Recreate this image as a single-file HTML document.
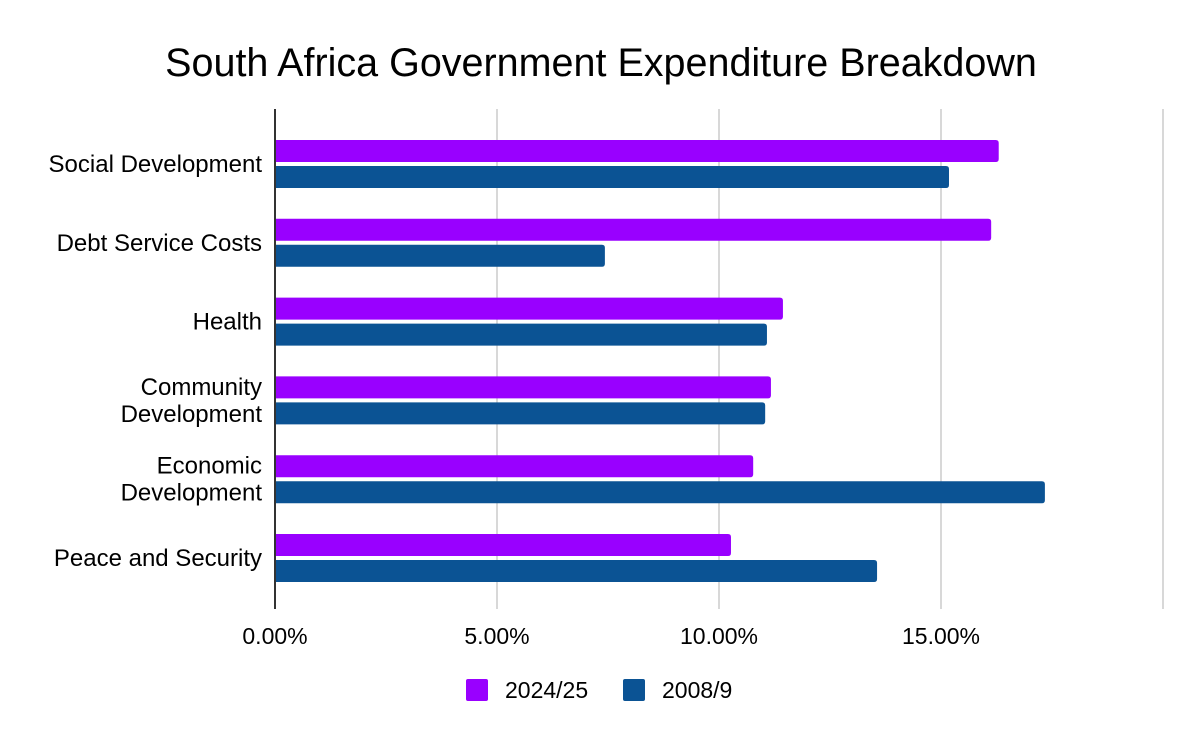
<!DOCTYPE html>
<html><head><meta charset="utf-8"><style>
body{margin:0;background:#fff;}
svg{display:block;font-family:"Liberation Sans",Arial,sans-serif;}
</style></head><body>
<svg id="chart" width="1200" height="742" viewBox="0 0 1200 742">
<rect width="1200" height="742" fill="#fff"/>
<text x="601" y="76" text-anchor="middle" font-size="39.5" fill="#000">South Africa Government Expenditure Breakdown</text>
<g id="grid"></g><g id="bars"></g><g id="labels"></g>
<line x1="275" y1="109" x2="275" y2="609" stroke="#333" stroke-width="2"/>
<g>
<rect x="466" y="679" width="22" height="22" rx="2" fill="#9900ff"/>
<text x="505" y="698" font-size="23" fill="#000">2024/25</text>
<rect x="623" y="679" width="22" height="22" rx="2" fill="#0b5394"/>
<text x="662" y="698" font-size="23" fill="#000">2008/9</text>
</g>
</svg>
<script>
const categories=[["Social Development"],["Debt Service Costs"],["Health"],["Community","Development"],["Economic","Development"],["Peace and Security"]];
const series2024=[16.3,16.13,11.44,11.17,10.77,10.27];
const series2008=[15.18,7.43,11.08,11.04,17.34,13.56];
const ticks=[0,5,10,15,20];
const tickLabels=["0.00%","5.00%","10.00%","15.00%",""];
const NS="http://www.w3.org/2000/svg";
const x0=275,pxPer=44.4,bandTop=124.6,band=78.8,barH=22,gap=4;
const xs=v=>x0+v*pxPer;
function mk(tag,attrs,parent){const e=document.createElementNS(NS,tag);for(const k in attrs)e.setAttribute(k,attrs[k]);document.getElementById(parent).appendChild(e);return e;}
ticks.forEach((t,i)=>{
 if(t>0){const l=mk('line',{x1:xs(t),x2:xs(t),y1:109,y2:609,stroke:'#ccc','stroke-width':1.5},'grid');
 
 }
 const tx=mk('text',{x:xs(t),y:644,'text-anchor':'middle','font-size':23,fill:'#000'},'labels');tx.textContent=tickLabels[i];
 
 
});
function bar(v,y,color,name){
 const w=xs(v)-x0,r=3;
 const d=`M${x0},${y}H${x0+w-r}Q${x0+w},${y} ${x0+w},${y+r}V${y+barH-r}Q${x0+w},${y+barH} ${x0+w-r},${y+barH}H${x0}Z`;
 const p=mk('path',{d:d,fill:color},'bars');
 
 
}
categories.forEach((c,i)=>{
 const cy=bandTop+band*(i+0.5);
 bar(series2024[i],cy-gap/2-barH,'#9900ff','bar-2024-'+i);
 bar(series2008[i],cy+gap/2,'#0b5394','bar-2008-'+i);
 const t=mk('text',{x:262,'text-anchor':'end','font-size':24,fill:'#000'},'labels');
 
 
 c.forEach((line,j)=>{const ts=document.createElementNS(NS,'tspan');ts.setAttribute('x',262);ts.setAttribute('y',cy+8+(j-(c.length-1)/2)*27);ts.textContent=line;t.appendChild(ts);});
});
</script>
</body></html>
